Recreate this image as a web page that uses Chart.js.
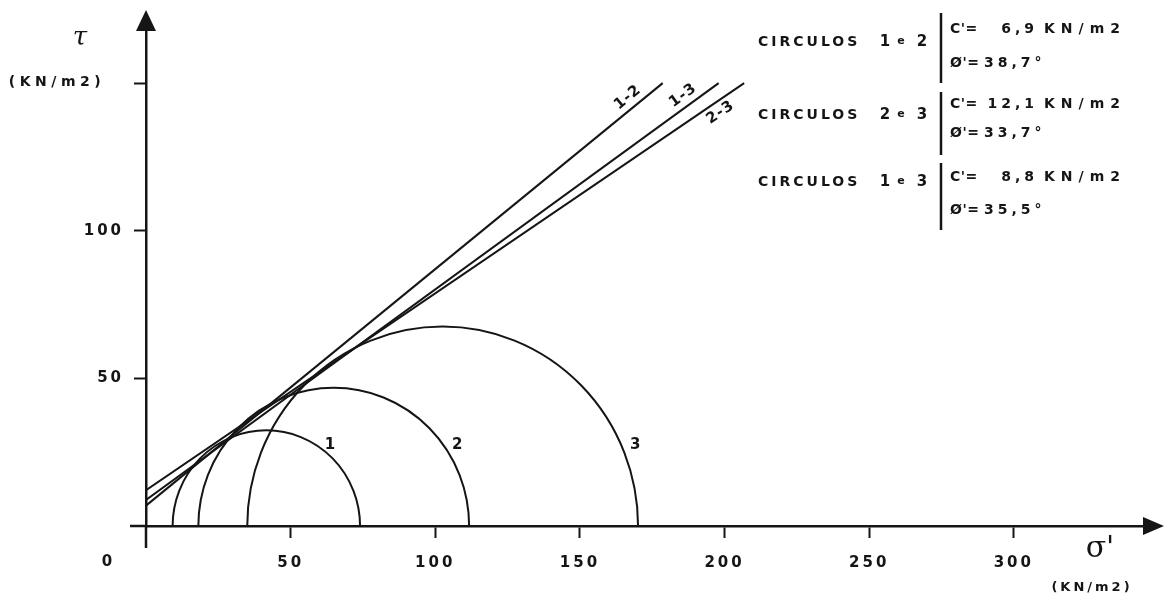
<!DOCTYPE html>
<html lang="pt">
<head>
<meta charset="utf-8">
<title>Envoltórias de resistência – círculos de Mohr</title>
<script src="https://cdn.jsdelivr.net/npm/chart.js@4.4.1/dist/chart.umd.min.js"></script>
<style>
  html, body { margin: 0; padding: 0; background: #ffffff; }
  #wrap { width: 1171px; height: 601px; position: relative; }
</style>
</head>
<body>
<div id="wrap"><canvas id="chart" width="1171" height="601"></canvas></div>
<script>
// Mohr circles of the three tests (effective stresses, kN/m2)
const circleNames = ['1', '2', '3'];
const sigma3 = [9.2, 18.1, 35.0];
const sigma1 = [74.0, 111.7, 170.1];

// Strength envelopes fitted to each pair of circles
const envelopeNames = ['1-2', '1-3', '2-3'];
const cohesion = [6.9, 8.8, 12.1];        // c'  (kN/m2)
const frictionAngle = [38.7, 35.5, 33.7]; // phi' (degrees)
const envelopeTopTau = 150;               // envelopes are drawn up to this shear stress

// Order of the envelopes in the summary box
const summaryOrder = ['1-2', '2-3', '1-3'];

// Axis ticks
const xTickValues = [50, 100, 150, 200, 250, 300];
const yTickValues = [50, 100, 150];
const yTickLabels = ['50', '100', ''];

const ink = '#151515';
const family = '"DejaVu Sans", "Liberation Sans", sans-serif';

const envelopeData = envelopeNames.map((name, i) => {
  const t = Math.tan(frictionAngle[i] * Math.PI / 180);
  return [
    { x: 0, y: cohesion[i] },
    { x: (envelopeTopTau - cohesion[i]) / t, y: envelopeTopTau }
  ];
});

const fmt = v => v.toFixed(1).replace('.', ',');

function text(ctx, str, x, y, font, align, spacing) {
  ctx.save();
  ctx.font = font;
  ctx.fillStyle = ink;
  ctx.textAlign = align || 'left';
  ctx.textBaseline = 'middle';
  ctx.letterSpacing = (spacing || 0) + 'px';
  ctx.fillText(str, x, y);
  ctx.restore();
}

const mohrDrawing = {
  id: 'mohrDrawing',
  beforeDraw(chart) {
    const ctx = chart.ctx;
    ctx.save();
    ctx.fillStyle = '#ffffff';
    ctx.fillRect(0, 0, chart.width, chart.height);
    ctx.restore();
    // wide stencil-like spacing for the tick numbers
    ctx.letterSpacing = '3px';
  },
  afterDatasetsDraw(chart) {
    const ctx = chart.ctx;
    const xs = chart.scales.x, ys = chart.scales.y;
    ctx.letterSpacing = '0px';

    // Mohr circles (upper halves)
    circleNames.forEach((name, i) => {
      const c = (sigma1[i] + sigma3[i]) / 2;
      const r = (sigma1[i] - sigma3[i]) / 2;
      const cx = xs.getPixelForValue(c);
      const cy = ys.getPixelForValue(0);
      const rx = xs.getPixelForValue(sigma1[i]) - cx;
      const ry = cy - ys.getPixelForValue(r);
      ctx.save();
      ctx.strokeStyle = ink;
      ctx.lineWidth = 2;
      ctx.beginPath();
      ctx.ellipse(cx, cy, rx, ry, 0, Math.PI, 2 * Math.PI);
      ctx.stroke();
      ctx.restore();

      // circle number, just outside the arc
      const tau = 27.5;
      const sx = c + Math.sqrt(Math.max(r * r - tau * tau, 0));
      text(ctx, name, xs.getPixelForValue(sx) + 14, ys.getPixelForValue(tau),
           'bold 15px ' + family, 'center');
    });

    // envelope names, written along each line near its upper end
    const side = { '1-2': 1, '1-3': 1, '2-3': -1 };
    envelopeNames.forEach((name, i) => {
      const p0 = envelopeData[i][0], p1 = envelopeData[i][1];
      const x0 = xs.getPixelForValue(p0.x), y0 = ys.getPixelForValue(p0.y);
      const x1 = xs.getPixelForValue(p1.x), y1 = ys.getPixelForValue(p1.y);
      const len = Math.hypot(x1 - x0, y1 - y0);
      const ux = (x1 - x0) / len, uy = (y1 - y0) / len;
      const nx = uy, ny = -ux;
      const s = side[name];
      const lx = x1 - 36 * ux + 11 * s * nx;
      const ly = y1 - 36 * uy + 11 * s * ny;
      ctx.save();
      ctx.translate(lx, ly);
      ctx.rotate(Math.atan2(uy, ux));
      text(ctx, name, 0, 0, 'bold 15px ' + family, 'center', 1);
      ctx.restore();
    });
  },
  afterDraw(chart) {
    const ctx = chart.ctx;
    const xs = chart.scales.x, ys = chart.scales.y;
    const ox = xs.getPixelForValue(0), oy = ys.getPixelForValue(0);
    const top = chart.chartArea.top, right = chart.chartArea.right;
    ctx.letterSpacing = '0px';

    ctx.save();
    ctx.strokeStyle = ink;
    ctx.fillStyle = ink;
    ctx.lineWidth = 2.5;
    // axis stubs past the origin
    ctx.beginPath();
    ctx.moveTo(ox - 16, oy); ctx.lineTo(ox, oy);
    ctx.moveTo(ox, oy); ctx.lineTo(ox, oy + 22);
    ctx.stroke();
    // arrowheads
    ctx.beginPath();
    ctx.moveTo(ox, top - 20); ctx.lineTo(ox - 10, top + 1); ctx.lineTo(ox + 10, top + 1);
    ctx.closePath(); ctx.fill();
    ctx.beginPath();
    ctx.moveTo(right + 20, oy); ctx.lineTo(right - 1, oy - 9); ctx.lineTo(right - 1, oy + 9);
    ctx.closePath(); ctx.fill();
    ctx.restore();

    // origin label and axis titles
    text(ctx, '0', ox - 39, oy + 36, 'bold 15px ' + family, 'center');
    text(ctx, 'τ', 80, 38, 'italic 26px "DejaVu Serif", serif', 'center');
    text(ctx, '(KN/m2)', 57, 82, 'bold 14px ' + family, 'center', 4.5);
    text(ctx, "σ'", 1100, 549, '30px "DejaVu Serif", serif', 'center');
    text(ctx, '(KN/m2)', 1092, 588, 'bold 13px ' + family, 'center', 3);

    // summary of the envelope parameters
    const rowPair = [42, 115, 182];
    const rowC = [29, 104, 177];
    const rowPhi = [63, 133, 210];
    const barTop = [13, 92, 163];
    const barBottom = [83, 155, 230];
    const f14 = 'bold 14px ' + family;
    summaryOrder.forEach((name, k) => {
      const i = envelopeNames.indexOf(name);
      const pair = name.split('-');
      text(ctx, 'CIRCULOS', 758, rowPair[k], f14, 'left', 3);
      text(ctx, pair[0], 885, rowPair[k], 'bold 15px ' + family, 'center');
      text(ctx, 'e', 901, rowPair[k] - 1, 'bold 11px ' + family, 'center');
      text(ctx, pair[1], 922, rowPair[k], 'bold 15px ' + family, 'center');
      ctx.save();
      ctx.strokeStyle = ink;
      ctx.lineWidth = 2.5;
      ctx.beginPath();
      ctx.moveTo(941, barTop[k]); ctx.lineTo(941, barBottom[k]);
      ctx.stroke();
      ctx.restore();
      text(ctx, "C'=", 950, rowC[k], f14, 'left', 0.5);
      text(ctx, fmt(cohesion[i]), 1038, rowC[k], f14, 'right', 4);
      text(ctx, 'KN/m2', 1044, rowC[k], f14, 'left', 6);
      text(ctx, "Ø'=", 950, rowPhi[k], f14, 'left', 0.5);
      text(ctx, fmt(frictionAngle[i]) + '°', 984, rowPhi[k], f14, 'left', 4);
    });
  }
};

new Chart(document.getElementById('chart'), {
  type: 'scatter',
  data: {
    datasets: envelopeNames.map((name, i) => ({
      label: name,
      data: envelopeData[i],
      showLine: true,
      borderColor: ink,
      borderWidth: 2,
      pointRadius: 0,
      fill: false
    }))
  },
  options: {
    responsive: false,
    animation: false,
    events: [],
    layout: { padding: { top: 30, right: 27, left: 0, bottom: 0 } },
    plugins: {
      legend: { display: false },
      tooltip: { enabled: false },
      title: { display: false }
    },
    scales: {
      x: {
        type: 'linear',
        position: 'bottom',
        min: 0,
        max: 345,
        afterBuildTicks: s => { s.ticks = xTickValues.map(v => ({ value: v })); },
        afterFit: s => { s.height = 75; },
        ticks: {
          color: ink,
          font: { family: family, size: 15, weight: 'bold' },
          padding: 16,
          maxRotation: 0,
          autoSkip: false
        },
        grid: {
          display: true,
          drawOnChartArea: false,
          drawTicks: true,
          tickLength: 12,
          tickWidth: 2,
          tickColor: ink
        },
        border: { display: true, color: ink, width: 2.5 }
      },
      y: {
        type: 'linear',
        position: 'left',
        min: 0,
        max: 168,
        afterBuildTicks: s => { s.ticks = yTickValues.map(v => ({ value: v })); },
        afterFit: s => { s.width = 146; },
        ticks: {
          color: ink,
          font: { family: family, size: 15, weight: 'bold' },
          padding: 10,
          autoSkip: false,
          callback: (v, idx) => yTickLabels[idx]
        },
        grid: {
          display: true,
          drawOnChartArea: false,
          drawTicks: true,
          tickLength: 12,
          tickWidth: 2,
          tickColor: ink
        },
        border: { display: true, color: ink, width: 2.5 }
      }
    }
  },
  plugins: [mohrDrawing]
});
</script>
</body>
</html>
